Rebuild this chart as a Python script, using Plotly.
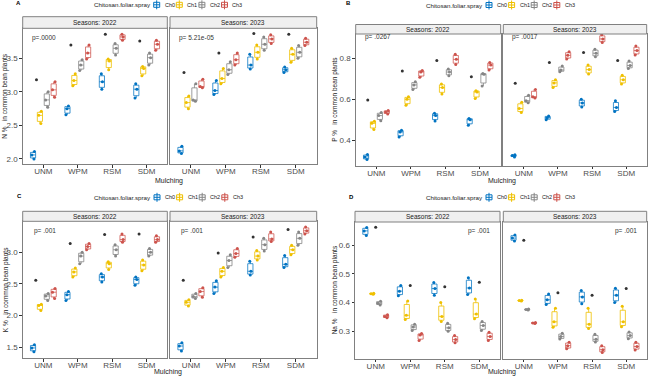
import plotly.graph_objects as go

W, H = 649, 376

MULCHING = ["UNM", "WPM", "RSM", "SDM"]
CHITOSAN = ["Ch0", "Ch1", "Ch2", "Ch3"]
SEASONS = ["2022", "2023"]
COLORS = ["#0073C2", "#EFC000", "#868686", "#CD534C"]
BOX_LINE = ["rgba(0,115,194,0.75)", "rgba(239,192,0,0.8)", "rgba(134,134,134,0.8)", "rgba(205,83,76,0.75)"]

# replicate readings per chitosan level, one triplet per mulching (UNM, WPM, RSM, SDM)
N_2022 = {
    "Ch0": [[2.00, 2.06, 2.11], [2.66, 2.75, 2.79], [3.04, 3.15, 3.27], [2.91, 3.04, 3.12]],
    "Ch1": [[2.53, 2.65, 2.71], [3.09, 3.17, 3.27], [3.33, 3.46, 3.49], [3.24, 3.35, 3.38]],
    "Ch2": [[2.77, 2.88, 3.00], [3.32, 3.40, 3.48], [3.55, 3.65, 3.72], [3.40, 3.51, 3.58]],
    "Ch3": [[2.92, 3.03, 3.15], [3.49, 3.58, 3.70], [3.77, 3.82, 3.86], [3.62, 3.71, 3.77]],
}
N_2023 = {
    "Ch0": [[2.08, 2.12, 2.19], [2.96, 3.02, 3.17], [3.34, 3.40, 3.56], [3.29, 3.33, 3.37]],
    "Ch1": [[2.75, 2.84, 2.94], [3.12, 3.20, 3.35], [3.49, 3.59, 3.70], [3.44, 3.56, 3.65]],
    "Ch2": [[2.86, 2.88, 3.12], [3.26, 3.33, 3.45], [3.62, 3.71, 3.82], [3.50, 3.59, 3.69]],
    "Ch3": [[3.06, 3.08, 3.19], [3.40, 3.48, 3.58], [3.72, 3.79, 3.85], [3.69, 3.74, 3.80]],
}
N_TOP_2022 = [3.18, 3.70, 3.86, 3.76]
N_TOP_2023 = [3.29, 3.58, 3.87, 3.86]

P_2022 = {
    "Ch0": [[0.305, 0.318, 0.330], [0.415, 0.440, 0.448], [0.494, 0.520, 0.532], [0.473, 0.500, 0.506]],
    "Ch1": [[0.452, 0.482, 0.492], [0.571, 0.600, 0.612], [0.626, 0.657, 0.675], [0.603, 0.635, 0.642]],
    "Ch2": [[0.495, 0.520, 0.535], [0.648, 0.670, 0.685], [0.715, 0.733, 0.748], [0.665, 0.722, 0.726]],
    "Ch3": [[0.528, 0.537, 0.545], [0.707, 0.733, 0.740], [0.770, 0.795, 0.820], [0.743, 0.767, 0.780]],
}
P_2023 = {
    "Ch0": [[0.318, 0.325, 0.328], [0.500, 0.510, 0.518], [0.562, 0.582, 0.600], [0.540, 0.560, 0.592]],
    "Ch1": [[0.535, 0.555, 0.585], [0.657, 0.680, 0.695], [0.723, 0.745, 0.767], [0.675, 0.695, 0.717]],
    "Ch2": [[0.583, 0.593, 0.620], [0.735, 0.743, 0.762], [0.808, 0.825, 0.845], [0.750, 0.765, 0.787]],
    "Ch3": [[0.606, 0.612, 0.648], [0.797, 0.815, 0.832], [0.877, 0.895, 0.915], [0.816, 0.838, 0.860]],
}
P_TOP_2022 = [0.596, 0.738, 0.790, 0.710]
P_TOP_2023 = [0.678, 0.780, 0.828, 0.789]

K_2022 = {
    "Ch0": [[1.43, 1.49, 1.54], [2.24, 2.33, 2.38], [2.53, 2.61, 2.66], [2.48, 2.57, 2.61]],
    "Ch1": [[2.08, 2.16, 2.18], [2.61, 2.69, 2.75], [2.73, 2.82, 2.85], [2.71, 2.80, 2.88]],
    "Ch2": [[2.24, 2.31, 2.35], [2.82, 2.94, 3.00], [2.94, 3.04, 3.12], [2.94, 3.00, 3.06]],
    "Ch3": [[2.27, 2.37, 2.43], [3.04, 3.09, 3.14], [3.16, 3.20, 3.29], [3.16, 3.20, 3.26]],
}
K_2023 = {
    "Ch0": [[1.44, 1.52, 1.57], [2.35, 2.45, 2.55], [2.64, 2.70, 2.86], [2.76, 2.81, 2.95]],
    "Ch1": [[2.15, 2.21, 2.25], [2.61, 2.70, 2.76], [2.88, 2.94, 3.03], [2.96, 3.04, 3.11]],
    "Ch2": [[2.27, 2.30, 2.35], [2.76, 2.87, 2.96], [3.02, 3.12, 3.22], [3.11, 3.22, 3.32]],
    "Ch3": [[2.29, 2.38, 2.44], [2.92, 2.98, 3.06], [3.17, 3.21, 3.32], [3.29, 3.34, 3.40]],
}
K_TOP_2022 = [2.56, 3.14, 3.28, 3.29]
K_TOP_2023 = [2.56, 2.99, 3.24, 3.36]

NA_2022 = {
    "Ch0": [[0.634, 0.650, 0.662], [0.424, 0.440, 0.460], [0.426, 0.449, 0.470], [0.428, 0.451, 0.487]],
    "Ch1": [[0.429, 0.431, 0.433], [0.341, 0.356, 0.406], [0.334, 0.352, 0.400], [0.344, 0.360, 0.413]],
    "Ch2": [[0.392, 0.398, 0.405], [0.303, 0.315, 0.325], [0.300, 0.312, 0.328], [0.303, 0.320, 0.334]],
    "Ch3": [[0.347, 0.352, 0.358], [0.268, 0.287, 0.292], [0.260, 0.271, 0.285], [0.268, 0.282, 0.297]],
}
NA_2023 = {
    "Ch0": [[0.615, 0.625, 0.636], [0.393, 0.410, 0.430], [0.396, 0.420, 0.442], [0.400, 0.426, 0.450]],
    "Ch1": [[0.406, 0.407, 0.408], [0.314, 0.333, 0.380], [0.310, 0.325, 0.380], [0.316, 0.333, 0.387]],
    "Ch2": [[0.374, 0.376, 0.378], [0.273, 0.282, 0.293], [0.263, 0.272, 0.290], [0.274, 0.285, 0.298]],
    "Ch3": [[0.327, 0.329, 0.331], [0.239, 0.250, 0.262], [0.226, 0.236, 0.250], [0.235, 0.247, 0.262]],
}
NA_TOP_2022 = [0.663, 0.460, 0.455, 0.471]
NA_TOP_2023 = [0.617, 0.434, 0.426, 0.449]

P_LABELS_N = ["p=.0000", "p= 5.21e-05"]
P_LABELS_P = ["p= .0267", "p= .0017"]
P_LABELS_K = ["p= .001", "p= .001"]
P_LABELS_NA = ["p= .001", "p= .001"]

Y_TITLES = ["N %   in common bean plants", "P %   in common bean plants",
            "K %   in common bean plants", "Na %   in common bean plants"]
LETTERS = ["A", "B", "C", "D"]

# layout (pixel geometry of each panel)
PANELS = [
    dict(data=[N_2022, N_2023], tops=[N_TOP_2022, N_TOP_2023], plab=P_LABELS_N,
         fx=[(22.7, 167.3), (170.0, 316.7)], py=(28.3, 164.3), strip=(16.7, 28.3),
         yr=[1.92, 3.948], tv=[2.0, 2.5, 3.0, 3.5], fmt=".1f",
         leg=(91.7, 4.8), let=(18.3, 3.3), ytx=5.5, xt=(169, 180.5),
         off=-0.2, px_=0.61, py_=3.81, pa="left"),
    dict(data=[P_2022, P_2023], tops=[P_TOP_2022, P_TOP_2023], plab=P_LABELS_P,
         fx=[(355.7, 500.7), (503.3, 646.7)], py=(34.0, 165.7), strip=(24.5, 34.0),
         yr=[0.275, 0.919], tv=[0.4, 0.6, 0.8], fmt=".1f",
         leg=(424.0, 5.0), let=(348.5, 2.5), ytx=335, xt=(501.5, 180.5),
         off=-0.25, px_=0.6, py_=0.905, pa="left"),
    dict(data=[K_2022, K_2023], tops=[K_TOP_2022, K_TOP_2023], plab=P_LABELS_K,
         fx=[(22.7, 167.3), (170.0, 316.7)], py=(221.3, 358.0), strip=(211.3, 221.3),
         yr=[1.331, 3.489], tv=[1.5, 2.0, 2.5, 3.0], fmt=".1f",
         leg=(92.0, 197.3), let=(19.0, 196.3), ytx=5.5, xt=(168, 371.6),
         off=-0.22, px_=0.66, py_=3.34, pa="left"),
    dict(data=[NA_2022, NA_2023], tops=[NA_TOP_2022, NA_TOP_2023], plab=P_LABELS_NA,
         fx=[(355.0, 500.0), (503.3, 646.7)], py=(222.0, 358.7), strip=(211.3, 222.0),
         yr=[0.2045, 0.681], tv=[0.3, 0.4, 0.5, 0.6], fmt=".1f",
         leg=(424.0, 197.3), let=(351.7, 197.3), ytx=335, xt=(501.5, 371.6),
         off=0.0, px_=4.38, py_=0.649, pa="right"),
]

FONT = "Liberation Sans, Arial, sans-serif"
BORDER = "#808080"


def fx(p):
    return p / W


def fy(p):
    return 1 - p / H


fig = go.Figure()
layout = {}
shapes = []
annotations = []

k = 0
for pi, P in enumerate(PANELS):
    for f in range(2):
        k += 1
        xa = "x" if k == 1 else f"x{k}"
        ya = "y" if k == 1 else f"y{k}"
        season_data = P["data"][f]
        for j, ch in enumerate(CHITOSAN):
            xs, ys = [], []
            for m in range(len(MULCHING)):
                for v in season_data[ch][m]:
                    xs.append(m + 1 + (j - 1.5) * 0.2)
                    ys.append(v)
            fig.add_trace(go.Box(
                x=xs, y=ys, xaxis=xa, yaxis=ya, name=ch,
                width=0.15, boxpoints="all", jitter=0.7, pointpos=0,
                whiskerwidth=0, quartilemethod="linear",
                fillcolor="rgba(255,255,255,0)",
                line=dict(color=BOX_LINE[j], width=1),
                marker=dict(color=COLORS[j], size=3),
                showlegend=False, hoverinfo="skip",
            ))
        tops = P["tops"][f]
        fig.add_trace(go.Scatter(
            x=[m + 1 + P["off"] for m in range(len(MULCHING))], y=tops,
            xaxis=xa, yaxis=ya, mode="markers",
            marker=dict(color="#333333", size=3), showlegend=False, hoverinfo="skip",
        ))

        x0, x1 = P["fx"][f]
        y0, y1 = P["py"]
        xkey = "xaxis" if k == 1 else f"xaxis{k}"
        ykey = "yaxis" if k == 1 else f"yaxis{k}"
        layout[xkey] = dict(
            domain=[fx(x0), fx(x1)], anchor=ya, range=[0.4, 4.6],
            tickmode="array", tickvals=[1, 2, 3, 4], ticktext=MULCHING,
            ticks="outside", ticklen=2.5, tickcolor="#333333", tickwidth=1,
            ticklabelstandoff=-3,
            tickfont=dict(size=8, color="#4D4D4D", family=FONT),
            showline=True, mirror=True, linecolor=BORDER, linewidth=1,
            showgrid=False, zeroline=False, fixedrange=True,
        )
        ydict = dict(
            domain=[fy(y1), fy(y0)], anchor=xa, range=P["yr"],
            tickmode="array", tickvals=P["tv"], tickformat=P["fmt"],
            tickfont=dict(size=8, color="#4D4D4D", family=FONT),
            showline=True, mirror=True, linecolor=BORDER, linewidth=1,
            showgrid=False, zeroline=False, fixedrange=True,
        )
        if f == 0:
            ydict.update(ticks="outside", ticklen=2.5, tickcolor="#333333", tickwidth=1)
        else:
            ydict.update(showticklabels=False, ticks="")
        layout[ykey] = ydict

        # strip
        s0, s1 = P["strip"]
        shapes.append(dict(type="rect", xref="paper", yref="paper",
                           x0=fx(x0), x1=fx(x1), y0=fy(s1), y1=fy(s0),
                           fillcolor="#F0F0F0", line=dict(color=BORDER, width=1)))
        annotations.append(dict(xref="paper", yref="paper", x=fx((x0 + x1) / 2), y=fy((s0 + s1) / 2),
                                text=f"Seasons: {SEASONS[f]}", showarrow=False,
                                xanchor="center", yanchor="middle",
                                font=dict(size=6.5, color="#1A1A1A", family=FONT)))
        # p-value label
        annotations.append(dict(xref=xa, yref=ya, x=P["px_"], y=P["py_"], text=P["plab"][f],
                                showarrow=False, xanchor=P["pa"], yanchor="middle",
                                font=dict(size=6.5, color="#333333", family=FONT)))

    # panel-level texts
    yt = (P["py"][0] + P["py"][1]) / 2
    annotations.append(dict(xref="paper", yref="paper", x=fx(P["ytx"]), y=fy(yt),
                            text=Y_TITLES[pi], textangle=-90, showarrow=False,
                            xanchor="center", yanchor="middle",
                            font=dict(size=6.5, color="#1A1A1A", family=FONT)))
    annotations.append(dict(xref="paper", yref="paper", x=fx(P["xt"][0]), y=fy(P["xt"][1]),
                            text="Mulching", showarrow=False, xanchor="center", yanchor="middle",
                            font=dict(size=7, color="#1A1A1A", family=FONT)))
    annotations.append(dict(xref="paper", yref="paper", x=fx(P["let"][0]), y=fy(P["let"][1]),
                            text=f"<b>{LETTERS[pi]}</b>", showarrow=False, xanchor="center", yanchor="middle",
                            font=dict(size=6, color="#000000", family=FONT)))
    # legend (drawn as text + key glyphs)
    lx, ly = P["leg"]
    annotations.append(dict(xref="paper", yref="paper", x=fx(lx), y=fy(ly),
                            text="Chitosan.foliar.spray", showarrow=False, xanchor="left", yanchor="middle",
                            font=dict(size=6.2, color="#1A1A1A", family=FONT)))
    for j, ch in enumerate(CHITOSAN):
        cx = lx + 65 + j * 22.6
        shapes.append(dict(type="rect", xref="paper", yref="paper",
                           x0=fx(cx - 3), x1=fx(cx + 3), y0=fy(ly + 2.5), y1=fy(ly - 2.5),
                           fillcolor="white", line=dict(color=COLORS[j], width=1)))
        shapes.append(dict(type="line", xref="paper", yref="paper",
                           x0=fx(cx - 3), x1=fx(cx + 3), y0=fy(ly), y1=fy(ly),
                           line=dict(color=COLORS[j], width=1)))
        shapes.append(dict(type="line", xref="paper", yref="paper",
                           x0=fx(cx), x1=fx(cx), y0=fy(ly + 4.5), y1=fy(ly - 4.5),
                           line=dict(color=COLORS[j], width=1)))
        annotations.append(dict(xref="paper", yref="paper", x=fx(cx + 6), y=fy(ly),
                                text=ch, showarrow=False, xanchor="left", yanchor="middle",
                                font=dict(size=5.5, color="#1A1A1A", family=FONT)))

fig.update_layout(
    width=W, height=H,
    margin=dict(l=0, r=0, t=0, b=0),
    paper_bgcolor="white", plot_bgcolor="white",
    showlegend=False, boxmode="overlay", hovermode=False,
    font=dict(family=FONT),
    shapes=shapes, annotations=annotations,
    **layout,
)

fig.write_html("out.html",
               config={"displayModeBar": False, "staticPlot": True},
               post_script="document.body.style.margin='0px';document.body.style.overflow='hidden';")
